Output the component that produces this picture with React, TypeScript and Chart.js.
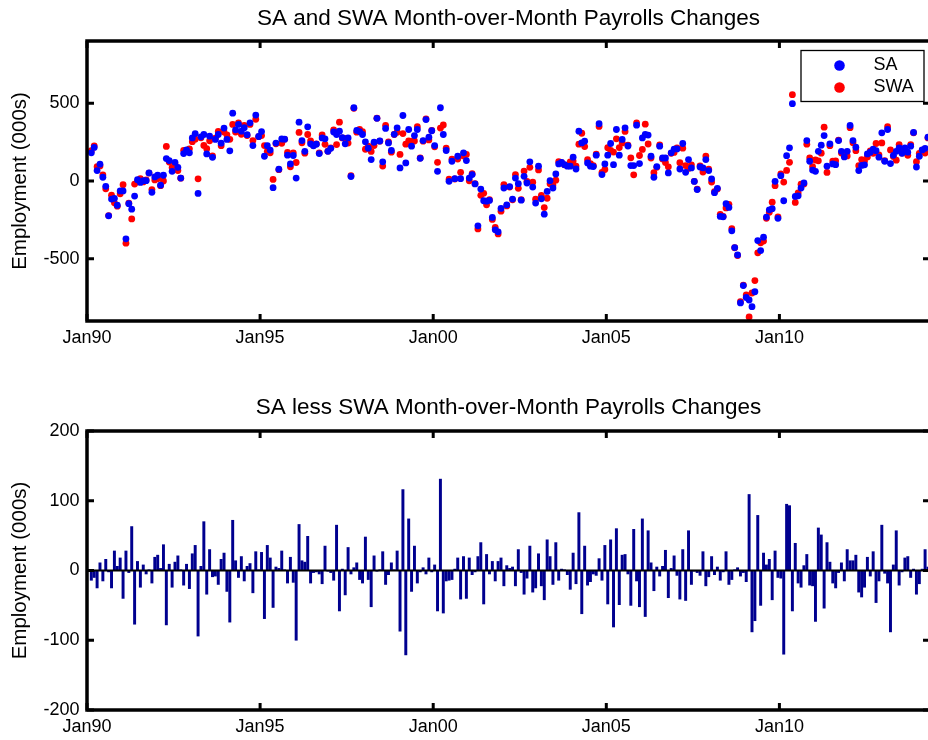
import React, { useEffect, useRef } from 'react';
import { Chart, registerables } from 'chart.js';

Chart.register(...registerables);

// Month-over-month payroll changes (000s), monthly from Feb 1990 to Apr 2014.
const FIRST_MONTH = 1; // months after Jan 1990 of the first observation (Feb 1990)

const SA = [
  181, 216, 67, 108, 24, -34, -224, -116, -112, -156, -64,
  -64, -372, -146, -181, -97, 8, -9, 2, 2, 52, -73, 26,
  37, -27, 37, 144, 131, 62, 120, 88, 19, 176, 200, 181,
  277, 305, -80, 284, 299, 174, 288, 152, 267, 299, 243, 340,
  267, 194, 436, 329, 364, 320, 343, 298, 374, 228, 424, 286,
  318, 159, 227, 199, -43, 244, 76, 270, 269, 166, 110, 164,
  19, 378, 260, 191, 348, 239, 226, 237, 176, 277, 271, 191,
  210, 315, 299, 320, 279, 239, 277, 29, 471, 325, 318, 299,
  252, 211, 138, 249, 403, 257, 123, 338, 245, 196, 300, 342,
  84, 421, 116, 331, 224, 292, 331, 146, 260, 395, 282, 323,
  228, 62, 471, 299, 196, -2, 127, 15, 159, 15, 181, 131,
  19, 41, -19, -288, -52, -127, -130, -125, -234, -314, -327, -176,
  -45, -153, -36, -116, 19, -17, -123, 30, -13, 123, -39, -142,
  95, -114, -213, -67, 2, -45, 45, 110, 120, 105, 95, 95,
  153, 77, 320, 245, 256, 116, 95, 93, 166, 368, 41, 110,
  166, 241, 105, 331, 166, 267, 342, 225, 99, 99, 359, 112,
  277, 299, 295, 159, 24, 93, 224, 148, 148, 52, 181, 205,
  206, 77, 241, 56, 138, 84, -3, -55, 90, 85, 138, 67,
  13, -75, -47, -228, -230, -146, -170, -320, -428, -475, -784, -672,
  -749, -765, -808, -712, -383, -447, -361, -232, -185, -178, -2, -240,
  34, -127, 163, 213, 497, -99, -95, -45, -13, 260, 127, 70,
  62, 191, 230, 292, 95, 239, 110, 105, 260, 191, 155, 191,
  357, 260, 217, 67, 100, 104, 174, 185, 205, 195, 153, 310,
  127, 331, 112, 165, 191, 213, 178, 213, 185, 224, 312, 90,
  159, 200, 210, 282,
];

// SA less SWA
const SA_LESS_SWA = [
  -14, -10, -25, 11, -15, 16, -2, -25, 28, 6, 18,
  -40, 28, -3, 63, -77, 13, -24, 8, -5, 1, -18, 19,
  22, 3, 37, -78, 9, -24, 12, 21, 1, -21, 9, -26,
  24, 36, -94, 6, 70, -34, 30, -9, -8, -20, 16, 25,
  -30, -74, 72, 14, -10, 20, -15, 6, 10, -32, 27, 1,
  26, -69, 36, 18, -53, 5, 3, 28, 1, -18, 19, -17,
  -100, 66, 14, 12, 49, -18, -3, -2, -5, -19, 35, -1,
  -3, -14, 65, -58, 2, -35, 33, -5, 4, 11, -13, -18,
  48, -13, -52, 21, -1, 1, 27, -20, -6, 11, 1, 28,
  -87, 116, -121, 74, -30, 35, -18, -2, 4, -5, 18, -2,
  8, -58, 131, -61, -15, -14, -13, 2, 18, -41, 20, -40,
  18, -6, -2, 20, 40, -48, 23, -5, 13, -15, 13, 18,
  -22, 7, 3, 5, -22, 30, -3, -34, -11, 35, -31, -25,
  24, -22, -42, 44, 20, -20, 40, -14, 2, 1, -6, -27,
  25, -19, 83, -62, 35, -21, -16, -5, -7, 17, -14, 36,
  -48, 44, -81, 60, -49, 22, 23, -5, -50, 59, -15, -52,
  74, -66, 57, 11, -29, 5, -8, 6, 29, -39, 3, 21,
  -7, -41, 30, -43, 57, -20, -1, -3, -7, 27, -22, -9,
  20, -6, 5, -14, -2, 27, -20, -13, 1, 4, -8, -3,
  -16, 109, -88, -72, 79, -50, 25, 8, 16, -42, 28, -10,
  -11, -120, 95, 93, -58, 39, -18, -24, 7, 23, -21, -22,
  -73, 61, 51, -54, 40, 12, -18, -25, -3, 11, -15, 30,
  14, 14, 22, -31, -38, -24, 19, -8, 27, -46, -15, 65,
  -4, -18, -88, 8, 57, -21, -2, 18, 20, -10, 2, -34,
  -19, 2, 30, 5,
];

// SWA = SA - (SA less SWA)
const SWA = SA.map((v, k) => v - SA_LESS_SWA[k]);

const X_TICK_VALUES = [0, 60, 120, 180, 240];
const X_TICK_LABELS = ['Jan90', 'Jan95', 'Jan00', 'Jan05', 'Jan10'];
const TOP_Y_TICKS = [-500, 0, 500];
const BOTTOM_Y_TICKS = [-200, -100, 0, 100, 200];
const SERIES_LABELS = ['SA', 'SWA'];
const TOP_TITLE = 'SA and SWA Month-over-Month Payrolls Changes';
const BOTTOM_TITLE = 'SA less SWA Month-over-Month Payrolls Changes';
const Y_TITLE = 'Employment (000s)';

const FONT = "'Liberation Sans', Arial, Helvetica, sans-serif";
const X_MAX = 292.2;

const monthPos = (k: number) => FIRST_MONTH + k + 0.5;

const framePlugin = {
  id: 'matlabFrame',
  afterDraw(chart: any) {
    const { ctx, chartArea: a, scales } = chart;
    ctx.save();
    ctx.strokeStyle = '#000';
    ctx.lineCap = 'butt';
    const tickLen = 7;
    ctx.lineWidth = 3;
    ctx.beginPath();
    scales.x.ticks.forEach((t: any) => {
      const x = scales.x.getPixelForValue(t.value);
      ctx.moveTo(x, a.bottom);
      ctx.lineTo(x, a.bottom - tickLen);
      ctx.moveTo(x, a.top);
      ctx.lineTo(x, a.top + tickLen);
    });
    scales.y.ticks.forEach((t: any) => {
      const y = scales.y.getPixelForValue(t.value);
      ctx.moveTo(a.left, y);
      ctx.lineTo(a.left + tickLen, y);
      ctx.moveTo(a.right, y);
      ctx.lineTo(a.right - tickLen, y);
    });
    ctx.stroke();
    ctx.lineWidth = 3.5;
    ctx.strokeRect(a.left, a.top, a.right - a.left, a.bottom - a.top);
    ctx.restore();
  },
};

const legendBoxPlugin = {
  id: 'legendBox',
  afterDraw(chart: any) {
    const { ctx, chartArea: a } = chart;
    const w = 123;
    const h = 51;
    const left = a.right - 6 - w;
    const top = a.top + 9.5;
    ctx.save();
    ctx.fillStyle = '#fff';
    ctx.fillRect(left, top, w, h);
    ctx.strokeStyle = '#000';
    ctx.lineWidth = 1.3;
    ctx.strokeRect(left, top, w, h);
    chart.data.datasets.forEach((ds: any, j: number) => {
      const cy = top + 15 + j * 22;
      ctx.fillStyle = ds.backgroundColor;
      ctx.beginPath();
      ctx.arc(left + 38.5, cy, 5.3, 0, Math.PI * 2);
      ctx.fill();
      ctx.fillStyle = '#000';
      ctx.font = `18px ${FONT}`;
      ctx.textBaseline = 'middle';
      ctx.textAlign = 'left';
      ctx.fillText(ds.label, left + 72.5, cy);
    });
    ctx.restore();
  },
};

const zeroLinePlugin = {
  id: 'zeroLine',
  afterDatasetsDraw(chart: any) {
    const { ctx, chartArea: a, scales } = chart;
    const y = scales.y.getPixelForValue(0);
    ctx.save();
    ctx.strokeStyle = '#000';
    ctx.lineWidth = 2;
    ctx.beginPath();
    ctx.moveTo(a.left, y);
    ctx.lineTo(a.right, y);
    ctx.stroke();
    ctx.restore();
  },
};

function xScale(axisHeight: number) {
  return {
    type: 'linear',
    min: 0,
    max: X_MAX,
    offset: false,
    grid: { display: false, drawTicks: false },
    border: { display: false },
    afterBuildTicks: (s: any) => {
      s.ticks = X_TICK_VALUES.map((v) => ({ value: v }));
    },
    afterFit: (s: any) => {
      s.height = axisHeight;
    },
    ticks: {
      autoSkip: false,
      maxRotation: 0,
      minRotation: 0,
      padding: 6,
      color: '#000',
      font: { family: FONT, size: 18 },
      callback: (_v: any, i: number) => X_TICK_LABELS[i],
    },
  };
}

function yScale(min: number, max: number, tickValues: number[]) {
  return {
    type: 'linear',
    min,
    max,
    grid: { display: false, drawTicks: false },
    border: { display: false },
    afterBuildTicks: (s: any) => {
      s.ticks = tickValues.map((v) => ({ value: v }));
    },
    afterFit: (s: any) => {
      s.width = 87;
    },
    ticks: {
      autoSkip: false,
      padding: 7.5,
      color: '#000',
      font: { family: FONT, size: 18 },
      callback: (v: any) => String(v),
    },
    title: {
      display: true,
      text: Y_TITLE,
      color: '#000',
      font: { family: FONT, size: 20.5 },
      padding: { top: 8, bottom: 0 },
    },
  };
}

function titleOpts(text: string, padTop: number, padBottom: number) {
  return {
    display: true,
    text,
    fullSize: false,
    color: '#000',
    font: { family: FONT, size: 22.5, weight: 'normal' },
    padding: { top: padTop, bottom: padBottom },
  };
}

export default function App() {
  const topRef = useRef<HTMLCanvasElement>(null);
  const botRef = useRef<HTMLCanvasElement>(null);

  useEffect(() => {
    const topChart = new Chart(topRef.current as HTMLCanvasElement, {
      type: 'scatter',
      data: {
        datasets: [
          {
            label: SERIES_LABELS[0],
            data: SA.map((v, k) => ({ x: monthPos(k), y: v })),
            backgroundColor: '#0000ff',
            pointRadius: 3.4,
            pointHoverRadius: 3.4,
            borderWidth: 0,
            pointBorderWidth: 0,
          },
          {
            label: SERIES_LABELS[1],
            data: SWA.map((v, k) => ({ x: monthPos(k), y: v })),
            backgroundColor: '#ff0000',
            pointRadius: 3.4,
            pointHoverRadius: 3.4,
            borderWidth: 0,
            pointBorderWidth: 0,
          },
        ],
      },
      options: {
        animation: false,
        responsive: false,
        devicePixelRatio: 1,
        events: [],
        layout: { padding: { left: 0, right: 10, top: 0, bottom: 0 } },
        plugins: {
          legend: { display: false },
          tooltip: { enabled: false },
          title: titleOpts(TOP_TITLE, 5, 9),
        },
        scales: {
          x: xScale(49),
          y: yScale(-900, 900, TOP_Y_TICKS),
        },
      } as any,
      plugins: [framePlugin, legendBoxPlugin],
    } as any);

    const botChart = new Chart(botRef.current as HTMLCanvasElement, {
      type: 'bar',
      data: {
        datasets: [
          {
            label: 'SA less SWA',
            data: SA_LESS_SWA.map((v, k) => ({ x: monthPos(k), y: v })),
            backgroundColor: '#00008f',
            borderWidth: 0,
            barThickness: 2.3,
          },
        ],
      },
      options: {
        animation: false,
        responsive: false,
        devicePixelRatio: 1,
        events: [],
        layout: { padding: { left: 0, right: 10, top: 0, bottom: 0 } },
        plugins: {
          legend: { display: false },
          tooltip: { enabled: false },
          title: titleOpts(BOTTOM_TITLE, 24.5, 9.5),
        },
        scales: {
          x: xScale(30),
          y: yScale(-200, 200, BOTTOM_Y_TICKS),
        },
      } as any,
      plugins: [zeroLinePlugin, framePlugin],
    } as any);

    return () => {
      topChart.destroy();
      botChart.destroy();
    };
  }, []);

  return (
    <div
      style={{
        position: 'fixed',
        left: 0,
        top: 0,
        width: 928,
        height: 740,
        overflow: 'hidden',
        background: '#fff',
      }}
    >
      <canvas
        ref={topRef}
        width={940}
        height={370}
        style={{ position: 'absolute', left: 0, top: 0, width: 940, height: 370 }}
      />
      <canvas
        ref={botRef}
        width={940}
        height={370}
        style={{ position: 'absolute', left: 0, top: 370, width: 940, height: 370 }}
      />
    </div>
  );
}
